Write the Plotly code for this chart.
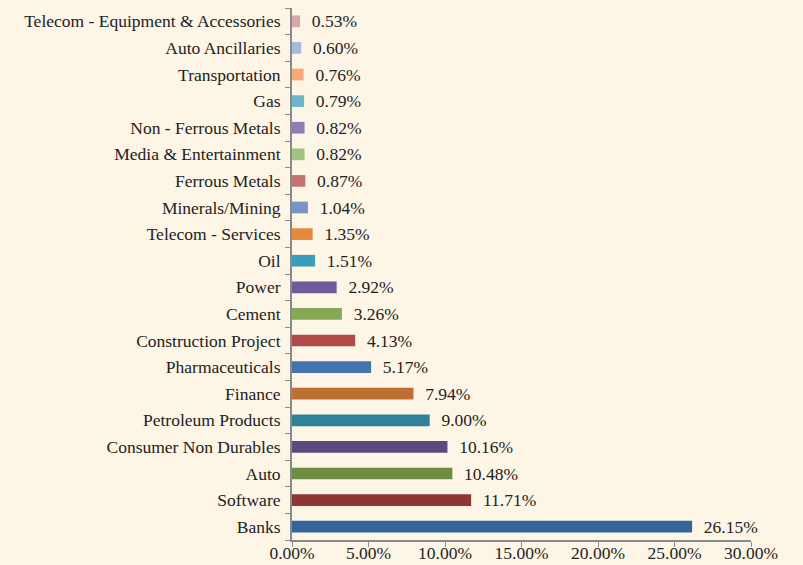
import plotly.graph_objects as go

categories = ["Banks", "Software", "Auto", "Consumer Non Durables", "Petroleum Products",
              "Finance", "Pharmaceuticals", "Construction Project", "Cement", "Power",
              "Oil", "Telecom - Services", "Minerals/Mining", "Ferrous Metals",
              "Media & Entertainment", "Non - Ferrous Metals", "Gas", "Transportation",
              "Auto Ancillaries", "Telecom - Equipment & Accessories"]
values = [26.15, 11.71, 10.48, 10.16, 9.00, 7.94, 5.17, 4.13, 3.26, 2.92,
          1.51, 1.35, 1.04, 0.87, 0.82, 0.82, 0.79, 0.76, 0.60, 0.53]
colors = ["#34649A", "#8E3635", "#6E8D42", "#5B4A7E", "#2F8398",
          "#BE7032", "#4474AE", "#AF4A48", "#83A957", "#6E5B9A",
          "#3A9EBA", "#E6893E", "#7497C8", "#C47373", "#A3C27F",
          "#8E7FB2", "#6DB6CA", "#F7A97A", "#A6BADB", "#D7A6A8"]
x_ticks = [0, 5, 10, 15, 20, 25, 30]

FONT = "Liberation Serif"
BG = "#FDF5E6"

fig = go.Figure(go.Bar(
    x=values, y=categories, orientation="h",
    marker=dict(color=colors, line=dict(width=0)),
    width=0.44,
    text=["  %.2f%%" % v for v in values],
    textposition="outside", cliponaxis=False, constraintext="none",
    textfont=dict(family=FONT, size=17.5, color="#222222"),
    hoverinfo="skip",
))

fig.update_layout(
    width=803, height=565,
    paper_bgcolor=BG, plot_bgcolor=BG,
    margin=dict(l=292, r=52, t=8, b=25, autoexpand=False),
    font=dict(family=FONT, size=17.5, color="#222222"),
    showlegend=False,
)
fig.update_xaxes(
    range=[0, 30], tickvals=x_ticks, ticktext=["%.2f%%" % t for t in x_ticks],
    showgrid=False, zeroline=False, automargin=False,
    showline=True, linecolor="#8A8A8A", linewidth=2,
    ticks="outside", ticklen=5, tickcolor="#8A8A8A", tickwidth=1,
    ticklabelstandoff=-9,
)
fig.update_yaxes(
    type="category", categoryorder="array", categoryarray=categories,
    showgrid=False, showline=True, linecolor="#8A8A8A", linewidth=2,
    ticks="outside", ticklen=5, tickcolor="#8A8A8A", tickwidth=1,
    tickson="boundaries", ticklabelstandoff=6, automargin=False,
)

fig.write_html(
    "out.html",
    config={"displayModeBar": False},
    post_script="document.body.style.margin='0';document.body.style.background='%s';" % BG,
)
